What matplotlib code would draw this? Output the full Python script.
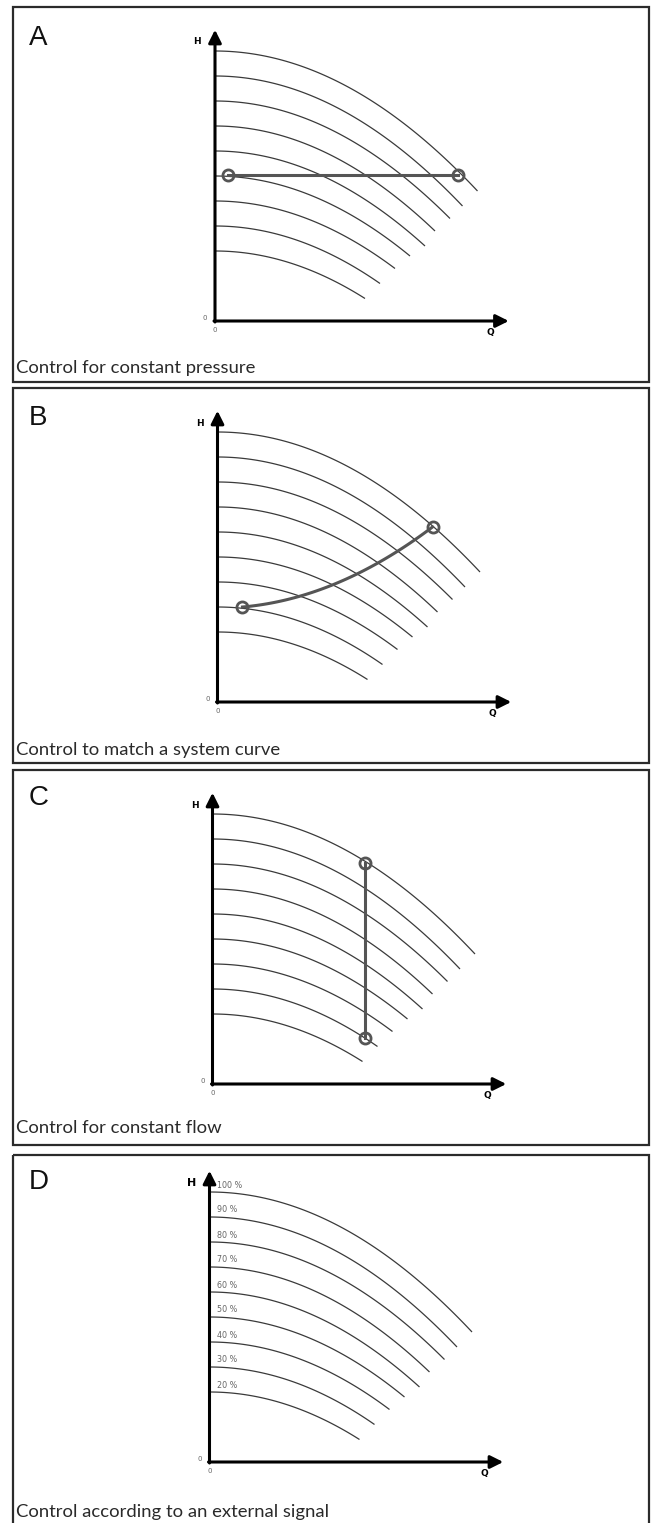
import matplotlib
matplotlib.use("Agg")
import matplotlib.pyplot as plt
from matplotlib.patches import Rectangle
import numpy as np

# ---------------- data (arbitrary units) ----------------
speeds = [100, 90, 80, 70, 60, 50, 40, 30, 20]          # % speed, one pump curve each
shutoff_head = [10.8, 9.8, 8.8, 7.8, 6.8, 5.8, 4.8, 3.8, 2.8]
end_flow = [10.5, 9.9, 9.4, 8.8, 8.4, 7.8, 7.2, 6.6, 6.0]
end_head = [5.2, 4.6, 4.1, 3.6, 3.0, 2.6, 2.1, 1.5, 0.9]

# A: constant pressure
a_flow = [0.5, 9.7]
a_head = [5.85, 5.85]
# B: system curve (end points)
b_flow = [1.0, 8.6]
b_head = [3.8, 7.0]
# C: constant flow
c_flow = [6.1, 6.1]
c_head = [8.85, 1.85]

letters = ["A", "B", "C", "D"]
captions = ["Control for constant pressure",
            "Control to match a system curve",
            "Control for constant flow",
            "Control according to an external signal"]

# ---------------- layout (pixels) ----------------
W, H = 653, 1523
fig = plt.figure(figsize=(W / 100, H / 100), dpi=100)

over = fig.add_axes([0, 0, 1, 1])
over.set_xlim(0, W)
over.set_ylim(H, 0)
over.axis("off")

box_top = [7, 388, 770, 1155]
box_bot = [382, 763, 1145, 1540]
box_left, box_right = 13, 649
letter_y = [38, 418, 798, 1182]
caption_y = [368, 750, 1128, 1512]
origins = [(215, 321), (217.5, 702), (212.5, 1084), (209.5, 1462)]

for i in range(4):
    over.add_patch(Rectangle((box_left, box_top[i]), box_right - box_left,
                             box_bot[i] - box_top[i], fill=False,
                             ec="#2b2b2b", lw=1.6))
    over.text(29, letter_y[i], letters[i], fontsize=20, family="Liberation Sans",
              ha="left", va="center", color="#111111")
    over.text(16, caption_y[i], captions[i], fontsize=13.3, family="Lato",
              ha="left", va="center", color="#2a2a2a")

UNIT = 25.0  # px per data unit
x0, x1 = -1.0, 12.5

curve_color = "#3a3a3a"
mark_color = "#555555"

for i in range(4):
    ox, oy = origins[i]
    span = (x1 - x0) * UNIT
    ax = fig.add_axes([(ox + x0 * UNIT) / W, (H - oy + x0 * UNIT) / H, span / W, span / H])
    ax.set_xlim(x0, x1)
    ax.set_ylim(x0, x1)
    ax.axis("off")

    # pump curves
    for h0, qe, he in zip(shutoff_head, end_flow, end_head):
        q = np.linspace(0, qe, 120)
        k = (h0 - he) / qe ** 2
        ax.plot(q, h0 - k * q ** 2, color=curve_color, lw=0.9, solid_capstyle="butt")

    # axes with arrows
    ap = dict(arrowstyle="-|>,head_length=0.7,head_width=0.35", lw=2.2,
              color="black", shrinkA=0, shrinkB=0, mutation_scale=11)
    ax.annotate("", xy=(11.75, 0), xytext=(-0.04, 0), arrowprops=ap, annotation_clip=False)
    ax.annotate("", xy=(0, 11.65), xytext=(0, -0.04), arrowprops=ap, annotation_clip=False)

    hsize = 8 if i == 3 else 6.5
    ax.text(-0.72, 11.16, "H", fontsize=hsize, fontweight="bold", ha="center",
            va="center", family="DejaVu Sans")
    ax.text(11.0, -0.45, "Q", fontsize=6.5, fontweight="bold", ha="center",
            va="center", family="DejaVu Sans")
    ax.text(-0.4, 0.12, "0", fontsize=5, ha="center", va="center", color="#666666")
    ax.text(0.0, -0.36, "0", fontsize=5, ha="center", va="center", color="#666666")

    if i == 0:
        ax.plot(a_flow, a_head, color=mark_color, lw=2.2)
        ax.plot(a_flow, a_head, "o", ms=8, mfc="none", mec=mark_color, mew=2, clip_on=False)
    elif i == 1:
        kk = (b_head[1] - b_head[0]) / (b_flow[1] ** 2 - b_flow[0] ** 2)
        a0 = b_head[0] - kk * b_flow[0] ** 2
        q = np.linspace(b_flow[0], b_flow[1], 100)
        ax.plot(q, a0 + kk * q ** 2, color=mark_color, lw=2.2)
        ax.plot(b_flow, b_head, "o", ms=8, mfc="none", mec=mark_color, mew=2, clip_on=False)
    elif i == 2:
        ax.plot(c_flow, c_head, color=mark_color, lw=2.2)
        ax.plot(c_flow, c_head, "o", ms=8, mfc="none", mec=mark_color, mew=2, clip_on=False)
    else:
        for s, h0 in zip(speeds, shutoff_head):
            ax.text(0.3, h0 + 0.28, f"{s} %", fontsize=5.8, ha="left", va="center",
                    color="#666666", family="DejaVu Sans")

fig.savefig("out.png", dpi=100)
